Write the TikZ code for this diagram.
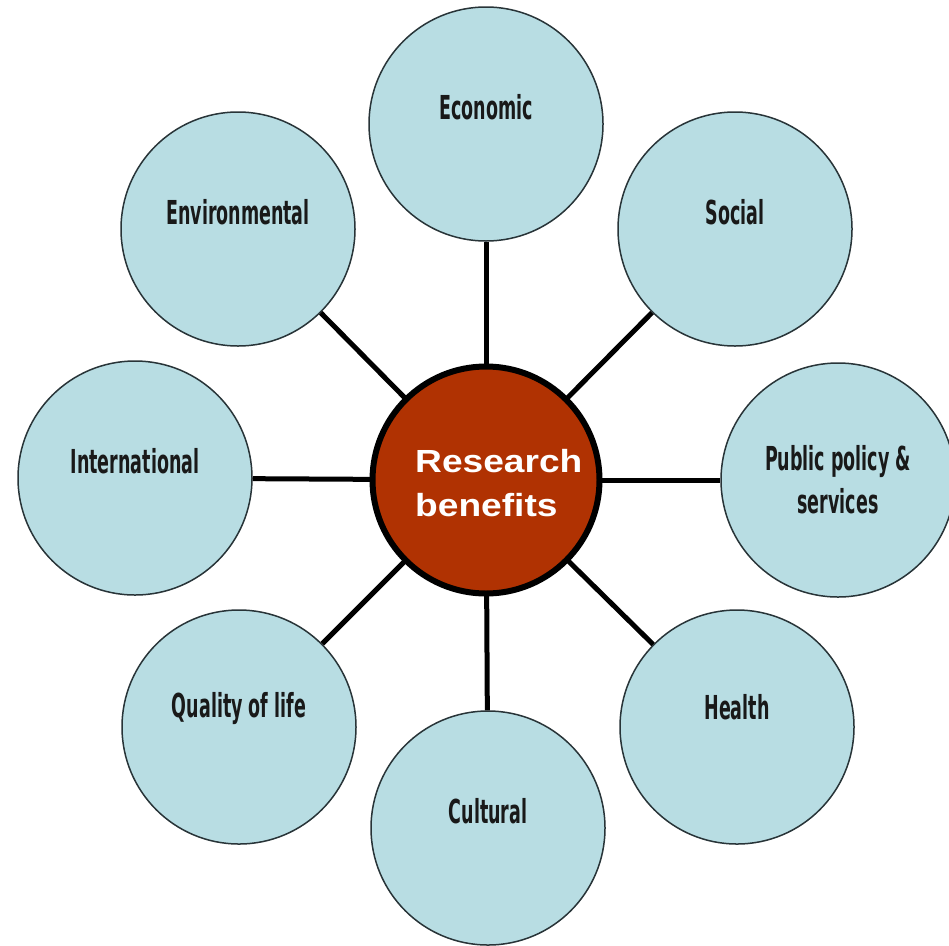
\documentclass[tikz,border=0pt]{standalone}
\usepackage{fontspec}
\newfontfamily\condfont[FakeStretch=0.53]{DejaVu Sans}
\newfontfamily\hubfont[FakeStretch=1.16]{Liberation Sans}
\definecolor{cblue}{RGB}{184,221,227}
\definecolor{cred}{RGB}{176,50,2}
\definecolor{cedge}{RGB}{40,52,56}
\tikzset{
  outer/.style={circle, draw=cedge, line width=1.5pt, fill=cblue, minimum size=234pt, inner sep=0pt},
  hub/.style={circle, draw=black, line width=6pt, fill=cred, minimum size=227pt, inner sep=0pt},
  conn/.style={line width=5pt, draw=black},
  lab/.style={inner sep=0pt, text=black!90, font=\condfont\bfseries\fontsize{33pt}{43pt}\selectfont, align=center},
  hublab/.style={inner sep=0pt, text=white, font=\hubfont\bfseries\fontsize{32pt}{44pt}\selectfont, align=left}
}
\begin{document}
\begin{tikzpicture}[x=1pt,y=-1pt]
\useasboundingbox[fill=white] (0,0) rectangle (949,945);
% outer circles
\node[outer] (eco) at (486,124) {};
\node[outer] (soc) at (735,229) {};
\node[outer] (env) at (238,229) {};
\node[outer] (int) at (135,478) {};
\node[outer] (pub) at (838,480) {};
\node[outer] (qol) at (239,727) {};
\node[outer] (hea) at (737,727) {};
\node[outer] (cul) at (488,828) {};
% hub position
\coordinate (hc) at (486,480);
% connectors
\foreach \n in {eco,soc,env,int,pub,qol,hea,cul}
  \draw[conn] (hc) -- (\n);
% hub
\node[hub] (hub) at (hc) {};
\node[hublab, anchor=west] (hubt) at (415,483) {Research\\benefits};
% labels
\node[lab, anchor=base] (ecot) at ([yshift=5pt]eco.center) {Economic};
\node[lab, anchor=base] (soct) at ([yshift=5pt]soc.center) {Social};
\node[lab, anchor=base] (envt) at ([yshift=5pt]env.center) {Environmental};
\node[lab, anchor=base] (intt) at ([yshift=5pt]int.center) {International};
\node[lab, anchor=center] (pubt) at (pub.center) {Public policy \&\\services};
\node[lab, anchor=base] (qolt) at ([yshift=10pt]qol.center) {Quality of life};
\node[lab, anchor=base] (heat) at ([yshift=8pt]hea.center) {Health};
\node[lab, anchor=base] (cult) at ([yshift=5pt]cul.center) {Cultural};
\end{tikzpicture}
\end{document}
